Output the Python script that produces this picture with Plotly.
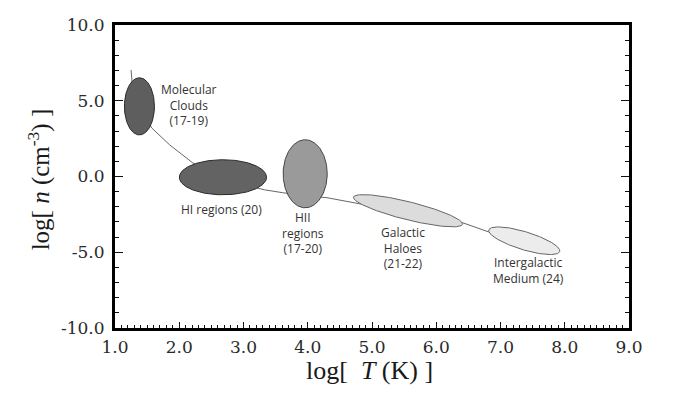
import numpy as np
import plotly.graph_objects as go

# ---------------- data ----------------
x_ticks = [1, 2, 3, 4, 5, 6, 7, 8, 9]
x_tick_labels = ["1.0", "2.0", "3.0", "4.0", "5.0", "6.0", "7.0", "8.0", "9.0"]
y_ticks = [-10, -5, 0, 5, 10]
y_tick_labels = ["-10.0", "-5.0", "0.0", "5.0", "10.0"]

# regions of the interstellar / intergalactic medium
region_names = ["Molecular<br>Clouds<br>(17-19)", "HI regions (20)",
                "HII<br>regions<br>(17-20)", "Galactic<br>Haloes<br>(21-22)",
                "Intergalactic<br>Medium (24)"]
region_logT = [1.38, 2.68, 3.96, 5.56, 7.37]        # centre, log T
region_logn = [4.63, -0.05, 0.18, -2.26, -4.24]     # centre, log n
region_semi_a = [0.234, 0.679, 0.343, 0.874, 0.577]  # semi-axis (log T units)
region_semi_b = [0.445, 0.273, 0.530, 0.140, 0.140]  # semi-axis (log T-equivalent units)
region_tilt = [0, 0, 0, -14, -17]                    # degrees

# connecting track
track_logT = [1.25, 1.27, 1.40, 1.57, 1.85, 2.21, 2.68, 3.33, 3.61, 3.96,
              4.30, 4.70, 5.55, 6.41, 6.81, 7.37]
track_logn = [7.03, 6.04, 4.66, 3.21, 2.09, 0.90, -0.22, -0.88, -1.07, -1.27,
              -1.40, -1.73, -2.39, -3.05, -3.65, -4.24]

# label positions (log T, log n)
label_logT = [2.15, 2.65, 3.93, 5.49, 7.44]
label_logn = [4.73, -2.2, -3.71, -4.70, -6.18]

# ---------------- styling ----------------
# page body has an 8px default margin, so the figure is sized to fit inside
W, H = 668, 397
ML, MR, MT, MB = 107, 47, 17, 77
plot_w = W - ML - MR
plot_h = H - MT - MB
k = (plot_h / 20.0) / (plot_w / 8.0)   # screen px per y unit / px per x unit

fill_colors = ["#5e5e5e", "#636363", "#9a9a9a", "#dcdcdc", "#ececec"]
edge_colors = ["#2a2a2a", "#2a2a2a", "#444444", "#666666", "#666666"]

fig = go.Figure()

fig.add_trace(go.Scatter(x=track_logT, y=track_logn, mode="lines",
                         line=dict(color="#555555", width=0.9),
                         hoverinfo="skip", showlegend=False))

t = np.linspace(0, 2 * np.pi, 200)
for i in range(len(region_names)):
    th = np.deg2rad(region_tilt[i])
    X = region_semi_a[i] * np.cos(t)
    Y = region_semi_b[i] * np.sin(t)
    xs = X * np.cos(th) - Y * np.sin(th)
    ys = X * np.sin(th) + Y * np.cos(th)
    fig.add_trace(go.Scatter(x=region_logT[i] + xs, y=region_logn[i] + ys / k,
                             mode="lines", fill="toself",
                             fillcolor=fill_colors[i],
                             line=dict(color=edge_colors[i], width=1),
                             hoverinfo="skip", showlegend=False))

for i in range(len(region_names)):
    fig.add_annotation(x=label_logT[i], y=label_logn[i], text=region_names[i],
                       showarrow=False, xanchor="center", yanchor="middle",
                       font=dict(family="Open Sans", size=12, color="#333333"))

# axis titles
fig.add_annotation(xref="paper", yref="paper", x=0.496, y=-0.141,
                   text="log[  <i>T</i> (K) ]", showarrow=False,
                   xanchor="center", yanchor="middle",
                   font=dict(family="Liberation Serif", size=26, color="#1a1a1a"))
fig.add_annotation(xref="paper", yref="paper", x=-0.147, y=0.492,
                   text="log[ <i>n</i> (cm<sup>-3</sup>) ]", showarrow=False,
                   textangle=-90, xanchor="center", yanchor="middle",
                   font=dict(family="Liberation Serif", size=25, color="#1a1a1a"))

tick_font = dict(family="DejaVu Serif", size=17, color="#2a2a2a")

fig.update_xaxes(range=[1, 9], tickvals=x_ticks, ticktext=x_tick_labels,
                 ticks="inside", ticklen=6, tickwidth=1, tickcolor="#111111",
                 minor=dict(dtick=0.1, ticks="inside", ticklen=3, tickwidth=1,
                            tickcolor="#111111"),
                 showline=True, linewidth=2.5, linecolor="#000000", mirror=True,
                 showgrid=False, zeroline=False, tickfont=tick_font,
                 ticklabelstandoff=2)
fig.update_yaxes(range=[-10, 10], tickvals=y_ticks, ticktext=y_tick_labels,
                 ticks="inside", ticklen=8, tickwidth=1, tickcolor="#111111",
                 minor=dict(dtick=1, ticks="inside", ticklen=4, tickwidth=1,
                            tickcolor="#111111"),
                 showline=True, linewidth=3, linecolor="#000000", mirror="ticks",
                 showgrid=False, zeroline=False, tickfont=tick_font,
                 ticklabelstandoff=4)

fig.update_layout(width=W, height=H,
                  margin=dict(l=ML, r=MR, t=MT, b=MB, autoexpand=False),
                  paper_bgcolor="white", plot_bgcolor="white",
                  showlegend=False)

fig.write_html("out.html")
